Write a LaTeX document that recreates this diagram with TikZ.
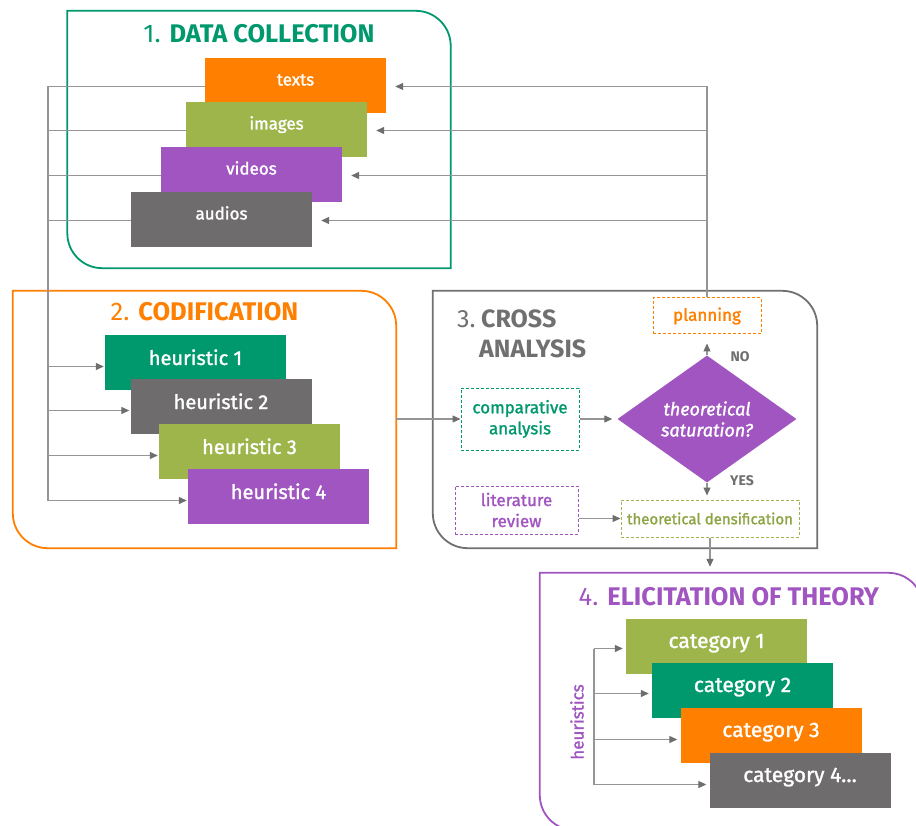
\documentclass[tikz,border=0pt]{standalone}
\usepackage{fontspec}
\setmainfont{Fira Sans}
\newfontfamily\semib[FakeBold=1.4]{Fira Sans}
\usetikzlibrary{arrows.meta,shapes.geometric}
\definecolor{cgreen}{HTML}{00996E}
\definecolor{corange}{HTML}{FF7F00}
\definecolor{colive}{HTML}{9DB54B}
\definecolor{cpurple}{HTML}{A055C0}
\definecolor{cgray}{HTML}{6E6C6D}
\definecolor{linegray}{HTML}{959595}
\definecolor{arrowgray}{HTML}{6E6E6E}
\definecolor{framegray}{HTML}{707070}
\newcommand\fs[1]{\fontsize{#1}{#1}\selectfont}
\newcommand\drawframe[2]{\draw[line width=1.8pt,#2] (#1.north west) -- ([xshift=-35pt]#1.north east) arc[start angle=90,end angle=0,radius=35pt] -- (#1.south east) -- ([xshift=35pt]#1.south west) arc[start angle=270,end angle=180,radius=35pt] -- cycle;}
\begin{document}
\begin{tikzpicture}[x=1pt,y=1pt,
  framebox/.style={minimum width=383pt, minimum height=257pt, inner sep=0pt},
  cbox/.style={minimum width=181pt, minimum height=55pt, inner sep=0pt, text=white, font=\semib\fs{17}, text height=7pt, text depth=7pt},
  hbox/.style={cbox, font=\semib\fs{20}, text height=10pt, text depth=5pt},
  kbox/.style={cbox, font=\semib\fs{21}, text height=8pt, text depth=5pt},
  dbox/.style={draw, dash pattern=on 3pt off 2pt, line width=1pt, inner sep=0pt, align=center, font=\semib\fontsize{17}{21}\selectfont},
  ttl/.style={font=\fs{25.5}},
  conn/.style={draw=linegray, line width=1.2pt},
  arr/.style={conn, -{Triangle[length=8pt,width=7pt,color=arrowgray]}},
  yn/.style={font=\bfseries\fs{14}, text=arrowgray}
]
\useasboundingbox (0,0) rectangle (916,-826);
\fill[white] (0,0) rectangle (916,-826);
\clip (0,0) rectangle (916,-826);

% frames
\node[framebox] (f1) at (259,-139.5) {};
\node[framebox] (f2) at (204.5,-419.5) {};
\node[framebox, minimum width=384pt] (f3) at (625,-419.5) {};
\node[framebox] (f4) at (731.5,-701.5) {};
\drawframe{f1}{cgreen}
\drawframe{f2}{corange}
\drawframe{f3}{framegray}
\drawframe{f4}{cpurple}

% titles
\node[ttl, text=cgreen] (t1) at (259,-34) {1. \textbf{DATA COLLECTION}};
\node[ttl, text=corange] (t2) at (204.5,-312) {2. \textbf{CODIFICATION}};
\node[ttl, text=cpurple] (t4) at (729,-597) {4. \textbf{ELICITATION OF THEORY}};
\node[ttl, text=framegray, anchor=base west, inner sep=0pt, font=\fs{25}] (t3a) at (457,-328) {3.};
\node[ttl, text=framegray, anchor=base west, inner sep=0pt, font=\bfseries\fs{25}] (t3b) at (481,-328) {CROSS};
\node[ttl, text=framegray, anchor=base west, inner sep=0pt, font=\bfseries\fs{25}] (t3c) at (479,-358) {ANALYSIS};

% data collection
\node[cbox, fill=corange] (texts) at (295.5,-85.5) {texts};
\node[cbox, fill=colive] (images) at (276.5,-129.5) {images};
\node[cbox, fill=cpurple] (videos) at (251.5,-174.5) {videos};
\node[cbox, fill=cgray] (audios) at (221.5,-219.5) {audios};

% codification
\node[hbox, fill=cgreen] (h1) at (195.5,-362.5) {heuristic 1};
\node[hbox, fill=cgray] (h2) at (221,-406.5) {heuristic 2};
\node[hbox, fill=colive] (h3) at (249.5,-451.5) {heuristic 3};
\node[hbox, fill=cpurple] (h4) at (278.5,-496.5) {heuristic 4};

% cross analysis
\node[dbox, draw=corange, text=corange, minimum width=108pt, minimum height=36pt] (plan) at (707,-316) {planning};
\node[diamond, fill=cpurple, text=white, inner sep=0pt, minimum width=179pt, minimum height=110pt, align=center, font=\semib\itshape\fontsize{18}{21}\selectfont] (dia) at (707,-419) {theoretical\\saturation?};
\node[dbox, draw=cgreen, text=cgreen, minimum width=118pt, minimum height=62pt] (comp) at (520,-419) {comparative\\analysis};
\node[dbox, draw=colive, text=colive!90!black, minimum width=178pt, minimum height=37pt, font=\semib\fs{15}] (dens) at (710,-518.5) {theoretical densification};
\node[dbox, draw=cpurple, text=cpurple, minimum width=123pt, minimum height=48pt] (lit) at (516.5,-510) {literature\\review};
\node[yn] (no) at (740,-357) {NO};
\node[yn] (yes) at (742,-481) {YES};

% elicitation
\node[kbox, fill=colive] (c1) at (716.5,-646.5) {category 1};
\node[kbox, fill=cgreen] (c2) at (742.5,-690.5) {category 2};
\node[kbox, fill=corange] (c3) at (771,-735.5) {category 3};
\node[kbox, fill=cgray] (c4) at (800,-780.5) {category 4…};
\node[rotate=90, text=cpurple, font=\semib\fs{17}] (heur) at (577,-722) {heuristics};

% left collector lines
\coordinate (L) at (48,0);
\foreach \n in {texts,images,videos,audios}{
  \draw[conn] ([yshift=-1pt]\n.west) -- ([yshift=-1pt]\n.west -| L);
}
\draw[conn] ([yshift=-1pt]texts.west -| L) -- ([yshift=-4pt]h4.west -| L);
\foreach \n in {h1,h2,h3,h4}{
  \draw[arr] ([yshift=-4pt]\n.west -| L) -- ([xshift=-1pt,yshift=-4pt]\n.west);
}

% right feedback lines
\draw[conn] (plan.north) -- ([yshift=-1pt]plan.north |- texts.east);
\foreach \n in {texts,images,videos,audios}{
  \draw[arr] ([yshift=-1pt]plan.north |- \n.east) -- ([xshift=9pt,yshift=-1pt]\n.east);
}

% cross analysis flow
\draw[arr] (f2.east |- comp.west) -- (comp.west);
\draw[arr] (comp.east) -- ([xshift=-5pt]dia.west);
\draw[arr] (dia.north) -- ([yshift=-9pt]plan.south -| dia.north);
\draw[arr] (dia.south) -- ([yshift=4pt]dens.north -| dia.south);
\draw[arr] (lit.east |- dens.west) -- (dens.west);
\draw[arr] (dens.south) -- ([yshift=6pt]dens.south |- f4.north);

% heuristics to categories
\coordinate (H) at (594,0);
\draw[conn] ([yshift=-2pt]c1.west -| H) -- ([yshift=-4pt]c4.west -| H);
\draw[arr] ([yshift=-2pt]c1.west -| H) -- ([xshift=-3pt,yshift=-2pt]c1.west);
\draw[arr] ([yshift=-3pt]c2.west -| H) -- ([xshift=-3pt,yshift=-3pt]c2.west);
\draw[arr] ([yshift=-4pt]c3.west -| H) -- ([xshift=-3pt,yshift=-4pt]c3.west);
\draw[arr] ([yshift=-4pt]c4.west -| H) -- ([xshift=-3pt,yshift=-4pt]c4.west);
\end{tikzpicture}
\end{document}
